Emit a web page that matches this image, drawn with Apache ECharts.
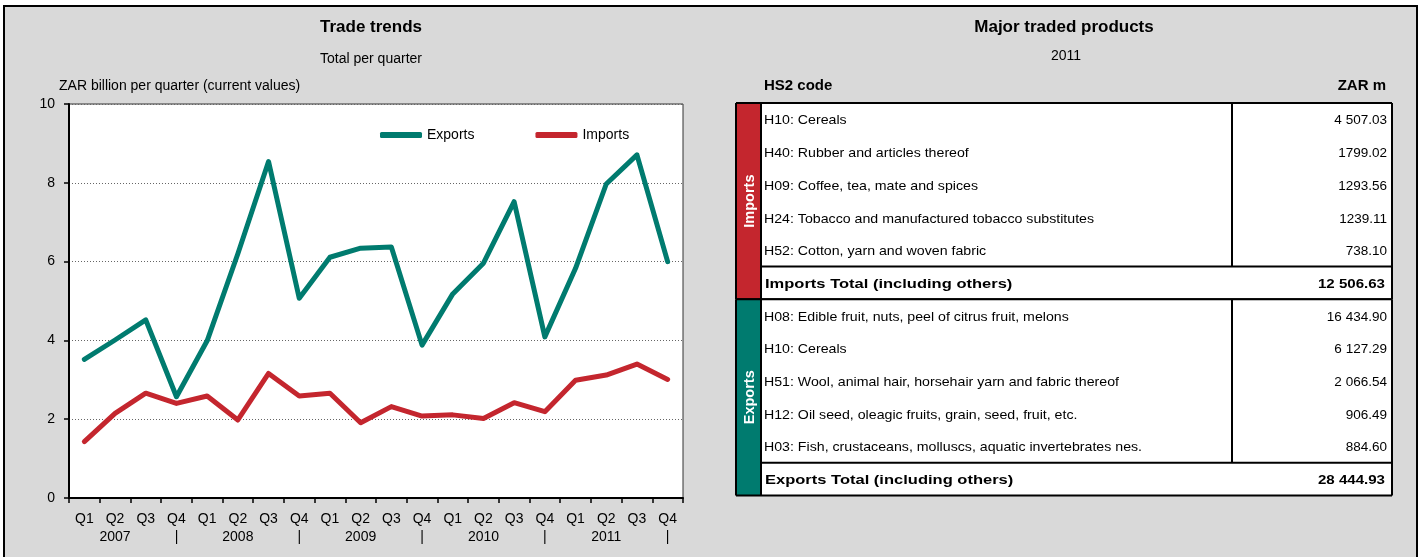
<!DOCTYPE html>
<html>
<head>
<meta charset="utf-8">
<script src="https://cdn.jsdelivr.net/npm/echarts@6/dist/echarts.min.js"></script>
<style>
  html, body { margin: 0; padding: 0; background: #fff; }
  #chart { width: 1424px; height: 557px; }
</style>
</head>
<body>
<div id="chart"></div>
<script>
// Quarterly trade, ZAR billion (current values)
const quarters = ['Q1', 'Q2', 'Q3', 'Q4'];
const years = ['2007', '2008', '2009', '2010', '2011'];
const exportsBn = [3.52, 4.01, 4.52, 2.57, 3.99, 6.20, 8.54, 5.07, 6.11, 6.34,
                   6.37, 3.88, 5.18, 5.96, 7.52, 4.09, 5.83, 7.97, 8.71, 6.00];
const importsBn = [1.43, 2.15, 2.66, 2.40, 2.59, 1.98, 3.16, 2.59, 2.66, 1.91,
                   2.32, 2.08, 2.11, 2.02, 2.42, 2.19, 2.99, 3.12, 3.40, 3.01];
const yMin = 0, yMax = 10, yStep = 2;

// Major traded products, 2011 (ZAR m)
const importProducts = [
  'H10: Cereals',
  'H40: Rubber and articles thereof',
  'H09: Coffee, tea, mate and spices',
  'H24: Tobacco and manufactured tobacco substitutes',
  'H52: Cotton, yarn and woven fabric'
];
const importValues = ['4 507.03', '1799.02', '1293.56', '1239.11', '738.10'];
const importTotal = '12 506.63';
const exportProducts = [
  'H08: Edible fruit, nuts, peel of citrus fruit, melons',
  'H10: Cereals',
  'H51: Wool, animal hair, horsehair yarn and fabric thereof',
  'H12: Oil seed, oleagic fruits, grain, seed, fruit, etc.',
  'H03: Fish, crustaceans, molluscs, aquatic invertebrates nes.'
];
const exportValues = ['16 434.90', '6 127.29', '2 066.54', '906.49', '884.60'];
const exportTotal = '28 444.93';

const EXPORT_COLOR = '#007b6f';
const IMPORT_COLOR = '#c4262e';
const NARROW = "'Liberation Sans Narrow', 'Arial Narrow', 'Liberation Sans', Arial, sans-serif";
const ARIAL = "'Liberation Sans', Arial, sans-serif";

const categories = [];
years.forEach(y => quarters.forEach(q => categories.push(y + ' ' + q)));

// "Q2" carries the year underneath, "Q4" a separator bar
function quarterLabel(value, idx) {
  const qi = idx % 4;
  const yr = years[Math.floor(idx / 4)];
  const second = qi === 1 ? yr : (qi === 3 ? '|' : '');
  return quarters[qi] + '\n' + second;
}

// ---- helpers for headings and the products table ----
function txt(x, y, text, opts) {
  opts = opts || {};
  return {
    type: 'text', x: x, y: y, silent: true,
    rotation: opts.rotation || 0,
    scaleX: opts.scaleX || 1,
    style: {
      text: text,
      fill: opts.color || '#000',
      font: (opts.weight || 'normal') + ' ' + (opts.size || 14) + 'px ' + (opts.family || ARIAL),
      textAlign: opts.align || 'left',
      textVerticalAlign: 'middle'
    }
  };
}
function line(x1, y1, x2, y2, w) {
  return { type: 'line', silent: true, shape: { x1, y1, x2, y2 },
           style: { stroke: '#000', lineWidth: w || 2 } };
}
function rect(x, y, w, h, fill) {
  return { type: 'rect', silent: true, shape: { x, y, width: w, height: h },
           style: { fill: fill, stroke: null } };
}

const graphics = [];
// page frame
graphics.push({ type: 'rect', silent: true, z: -10,
  shape: { x: 4, y: 6, width: 1413, height: 570 },
  style: { fill: '#d9d9d9', stroke: '#000', lineWidth: 2 } });

// headings
graphics.push(txt(371, 27, 'Trade trends', { weight: 'bold', size: 17, family: NARROW, align: 'center' }));
graphics.push(txt(371, 59, 'Total per quarter', { size: 14, family: NARROW, align: 'center' }));
graphics.push(txt(59, 86, 'ZAR billion per quarter (current values)', { size: 14, family: NARROW }));
graphics.push(txt(1064, 27, 'Major traded products', { weight: 'bold', size: 17, family: NARROW, align: 'center' }));
graphics.push(txt(1066, 56, '2011', { size: 14, family: NARROW, align: 'center' }));
graphics.push(txt(764, 86, 'HS2 code', { weight: 'bold', size: 15, family: NARROW }));
graphics.push(txt(1386, 86, 'ZAR m', { weight: 'bold', size: 15, family: NARROW, align: 'right' }));

// products table
const tx0 = 736, txSide = 761, txDiv = 1232, tx1 = 1392;
const rowH = 32.7;
const textX = 764, valX = 1387, textDy = 1.5;

function block(yTop, label, color, names, values, total) {
  const yItemsEnd = yTop + rowH * names.length;
  const yEnd = yItemsEnd + rowH;
  graphics.push(rect(tx0, yTop, txSide - tx0, yEnd - yTop, color));
  graphics.push(rect(txSide, yTop, tx1 - txSide, yEnd - yTop, '#fff'));
  graphics.push(txt(tx0 + (txSide - tx0) / 2 + 1, (yTop + yEnd) / 2, label,
    { weight: 'bold', size: 14.5, color: '#fff', align: 'center', rotation: Math.PI / 2 }));
  names.forEach((n, i) => {
    const cy = yTop + rowH * (i + 0.5) + textDy;
    graphics.push(txt(textX, cy, n, { size: 13, scaleX: 1.09 }));
    graphics.push(txt(valX, cy, values[i], { size: 13, scaleX: 1.04, align: 'right' }));
  });
  const ty = yItemsEnd + rowH / 2 + textDy;
  graphics.push(txt(textX + 1, ty, label + ' Total (including others)', { weight: 'bold', size: 13, scaleX: 1.27 }));
  graphics.push(txt(valX - 2, ty, total, { weight: 'bold', size: 13, scaleX: 1.16, align: 'right' }));
  graphics.push(line(tx0, yTop, tx1, yTop));
  graphics.push(line(txSide, yItemsEnd, tx1, yItemsEnd));
  graphics.push(line(tx0, yEnd, tx1, yEnd));
  graphics.push(line(txDiv, yTop, txDiv, yItemsEnd));
  graphics.push(line(tx0, yTop, tx0, yEnd));
  graphics.push(line(txSide, yTop, txSide, yEnd));
  graphics.push(line(tx1, yTop, tx1, yEnd));
  return yEnd;
}
const yMid = block(103, 'Imports', IMPORT_COLOR, importProducts, importValues, importTotal);
block(yMid, 'Exports', EXPORT_COLOR, exportProducts, exportValues, exportTotal);

const axisText = { fontFamily: NARROW, fontSize: 14, color: '#000' };

const option = {
  animation: false,
  backgroundColor: '#fff',
  grid: {
    left: 69, right: 741, top: 104, bottom: 59,
    show: true, backgroundColor: '#fff', borderColor: '#333', borderWidth: 1
  },
  legend: {
    left: 375, top: 123,
    itemWidth: 42, itemHeight: 6, itemGap: 61,
    icon: 'roundRect',
    textStyle: { fontFamily: NARROW, fontSize: 14, color: '#000' },
    data: ['Exports', 'Imports']
  },
  xAxis: {
    type: 'category',
    data: categories,
    boundaryGap: true,
    axisLine: { lineStyle: { color: '#000', width: 2 } },
    axisTick: { show: true, length: 5, lineStyle: { color: '#000', width: 1.5 } },
    axisLabel: Object.assign({ interval: 0, margin: 12, lineHeight: 18, formatter: quarterLabel }, axisText),
    splitLine: { show: false }
  },
  yAxis: {
    type: 'value',
    min: yMin, max: yMax, interval: yStep,
    axisLine: { show: true, lineStyle: { color: '#000', width: 2 } },
    axisTick: { show: true, length: 5, lineStyle: { color: '#000', width: 1.5 } },
    axisLabel: Object.assign({ margin: 14 }, axisText),
    splitLine: { show: true, lineStyle: { color: '#666', width: 1, type: [1, 2] } }
  },
  series: [
    {
      name: 'Exports', type: 'line', data: exportsBn,
      showSymbol: false, symbol: 'none',
      itemStyle: { color: EXPORT_COLOR },
      lineStyle: { color: EXPORT_COLOR, width: 5, cap: 'round', join: 'round' }
    },
    {
      name: 'Imports', type: 'line', data: importsBn,
      showSymbol: false, symbol: 'none',
      itemStyle: { color: IMPORT_COLOR },
      lineStyle: { color: IMPORT_COLOR, width: 5, cap: 'round', join: 'round' }
    }
  ],
  graphic: { elements: graphics }
};

const chart = echarts.init(document.getElementById('chart'));
chart.setOption(option);
</script>
</body>
</html>
